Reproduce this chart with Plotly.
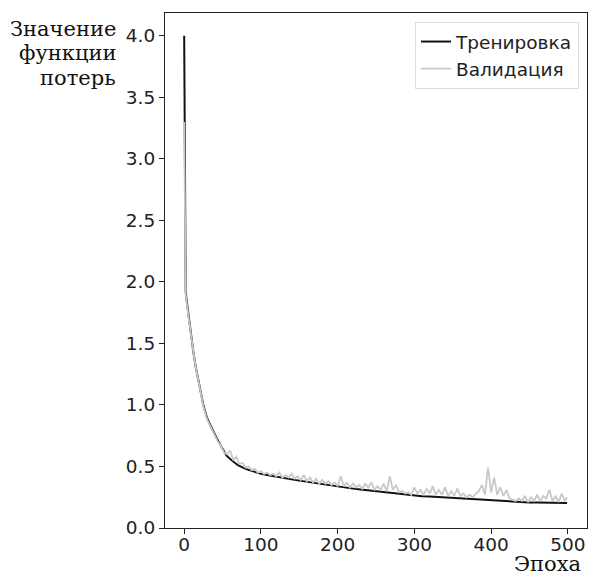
import plotly.graph_objects as go

# training loss (black)
train_epochs = [0, 1, 2, 3, 5, 8, 10, 12, 15, 18, 20, 25, 30, 35, 40, 45, 50, 55, 60,
                70, 80, 90, 100, 110, 120, 130, 140, 150, 160, 170, 180, 190, 200,
                210, 220, 230, 240, 250, 260, 270, 280, 290, 300, 310, 320, 330, 340,
                350, 360, 370, 380, 390, 400, 410, 420, 430, 440, 450, 460, 470, 480,
                490, 499]
train_loss = [4.0, 1.98, 1.92, 1.86, 1.76, 1.61, 1.51, 1.43, 1.31, 1.21, 1.14, 1.0, 0.89,
              0.82, 0.76, 0.70, 0.64, 0.59, 0.56, 0.51, 0.48, 0.46, 0.44, 0.428, 0.415,
              0.405, 0.395, 0.385, 0.375, 0.365, 0.355, 0.345, 0.335, 0.327, 0.32, 0.312,
              0.305, 0.297, 0.29, 0.282, 0.275, 0.268, 0.262, 0.258, 0.255, 0.251, 0.248,
              0.245, 0.243, 0.239, 0.235, 0.231, 0.227, 0.222, 0.218, 0.214, 0.21, 0.208,
              0.207, 0.206, 0.205, 0.204, 0.203]

# validation loss (light gray)
val_epochs = [0, 1, 2, 3, 5, 8, 10, 12, 15, 18, 20, 25, 30, 35] + list(range(40, 500, 4)) + [499]
val_loss = [3.3, 2.05, 1.9, 1.84, 1.74, 1.6, 1.5, 1.43, 1.31, 1.21, 1.14, 0.99, 0.88, 0.82,
            0.76, 0.70, 0.67, 0.61, 0.60, 0.63, 0.55, 0.58, 0.52, 0.53, 0.49, 0.50, 0.47,
            0.48, 0.45, 0.46, 0.44, 0.45, 0.43, 0.44, 0.42, 0.45, 0.41, 0.43, 0.41, 0.44,
            0.40, 0.42, 0.39, 0.43, 0.38, 0.41, 0.37, 0.40, 0.36, 0.39, 0.36, 0.38, 0.35,
            0.37, 0.34, 0.42, 0.34, 0.37, 0.33, 0.36, 0.33, 0.35, 0.32, 0.36, 0.33, 0.37,
            0.31, 0.34, 0.31, 0.36, 0.30, 0.42, 0.31, 0.35, 0.29, 0.30, 0.28, 0.29, 0.27,
            0.33, 0.28, 0.31, 0.27, 0.32, 0.28, 0.34, 0.27, 0.31, 0.27, 0.33, 0.26, 0.30,
            0.26, 0.32, 0.26, 0.28, 0.25, 0.27, 0.25, 0.28, 0.30, 0.35, 0.27, 0.49, 0.29,
            0.41, 0.27, 0.33, 0.26, 0.31, 0.24, 0.23, 0.22, 0.24, 0.22, 0.26, 0.21, 0.25,
            0.22, 0.27, 0.22, 0.26, 0.24, 0.31, 0.22, 0.26, 0.21, 0.28, 0.22, 0.25]

y_ticks = [0.0, 0.5, 1.0, 1.5, 2.0, 2.5, 3.0, 3.5, 4.0]
x_ticks = [0, 100, 200, 300, 400, 500]
y_title_lines = ['Значение', 'функции', 'потерь']

fig = go.Figure()
fig.add_trace(go.Scatter(x=train_epochs, y=train_loss, mode='lines', name='Тренировка',
                         line=dict(color='#111111', width=2)))
fig.add_trace(go.Scatter(x=val_epochs, y=val_loss, mode='lines', name='Валидация',
                         line=dict(color='#c8c8c8', width=1.8)))

axis_style = dict(showline=True, mirror=True, linecolor='#222', linewidth=1.2,
                  ticks='outside', ticklen=5, tickcolor='#222', showgrid=False,
                  zeroline=False, tickfont=dict(family='DejaVu Sans', size=18.5, color='#222'))

fig.update_xaxes(range=[-25, 525], tickvals=x_ticks, ticklabelstandoff=-5, **axis_style)
fig.update_yaxes(range=[0, 4.185], tickvals=y_ticks, tickformat='.1f', **axis_style)

# multi-line y title, one annotation per line
for txt, yy in zip(y_title_lines, [0.969, 0.923, 0.873]):
    fig.add_annotation(text=txt, xref='paper', yref='paper', x=-0.111, y=yy,
                       xanchor='right', yanchor='middle', showarrow=False,
                       font=dict(family='DejaVu Serif', size=21, color='#111'))
fig.add_annotation(text='Эпоха', xref='paper', yref='paper', x=0.988, y=-0.069,
                   xanchor='right', yanchor='middle', showarrow=False, borderpad=0,
                   font=dict(family='DejaVu Serif', size=21, color='#111'))

fig.update_layout(
    width=590, height=577,
    margin=dict(l=165, r=3, t=13, b=49),
    plot_bgcolor='white', paper_bgcolor='white',
    legend=dict(x=0.981, y=0.9825, xanchor='right', yanchor='top',
                bordercolor='#dddddd', borderwidth=1, bgcolor='white',
                font=dict(family='DejaVu Sans', size=18.5, color='#222')),
)
fig.write_html("out.html", config={'displayModeBar': False},
               post_script="document.body.style.margin='0';")
